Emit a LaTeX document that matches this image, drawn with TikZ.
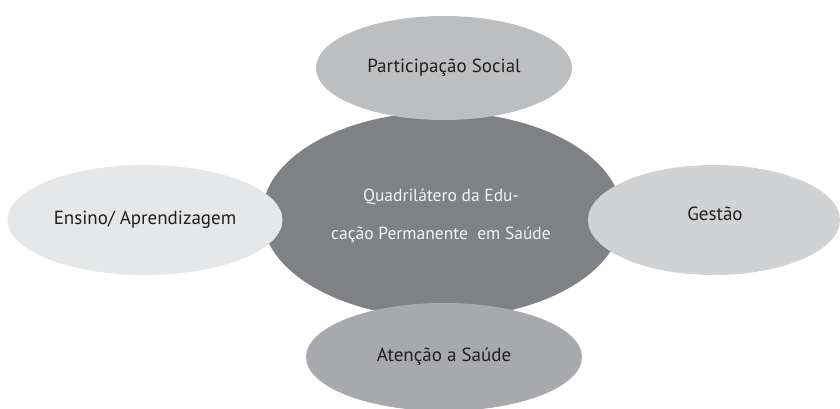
\documentclass[tikz,border=0pt]{standalone}
\usepackage{fontspec}
\setmainfont{PT Sans}
\usetikzlibrary{shapes.geometric}
\definecolor{cTop}{HTML}{BDBEC0}
\definecolor{cMid}{HTML}{808184}
\definecolor{cLeft}{HTML}{E6E7E8}
\definecolor{cRight}{HTML}{D1D2D4}
\definecolor{cBot}{HTML}{A7A9AC}
\definecolor{cTxt}{HTML}{231F20}
\begin{document}
\begin{tikzpicture}[x=1pt,y=-1pt,
  blob/.style={ellipse, draw=none, inner sep=0pt, text=cTxt, font=\fontsize{19}{22}\selectfont},
]
\useasboundingbox (0,0) rectangle (840,409);
\node[blob, fill=cMid, minimum width=360pt, minimum height=206pt] (mid) at (442,215) {};
\node[text=white!90!cMid, align=center, font=\fontsize{17.5}{38}\selectfont] (midtxt) at (441,216)
  {Quadrilátero da Edu-\\cação Permanente\ \ em Saúde};
\node[blob, fill=cTop, minimum width=256pt, minimum height=104pt] (top) at (444,68) {Participação Social};
\node[blob, fill=cLeft, minimum width=275pt, minimum height=110pt] (left) at (145,220) {Ensino/ Aprendizagem};
\node[blob, fill=cRight, minimum width=252pt, minimum height=110pt] (right) at (714,220) {};
\node[text=cTxt, font=\fontsize{19}{22}\selectfont] (righttxt) at (715,214) {Gestão};
\node[blob, fill=cBot, minimum width=276pt, minimum height=108pt] (bot) at (444,357) {Atenção a Saúde};
\end{tikzpicture}
\end{document}
